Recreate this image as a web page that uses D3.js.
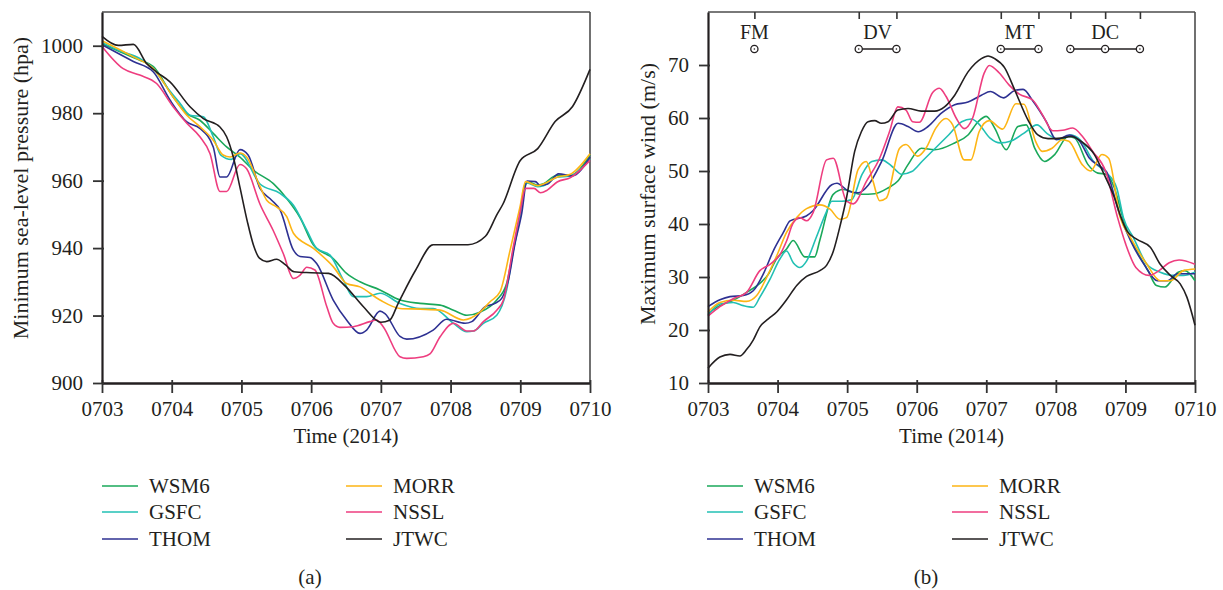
<!DOCTYPE html>
<html>
<head>
<meta charset="utf-8">
<script src="https://cdn.jsdelivr.net/npm/d3@7"></script>
<style>
body { margin: 0; background: #fff; }
svg text { font-family: "Liberation Serif", "DejaVu Serif", serif; fill: #231f20; }
</style>
</head>
<body>
<svg id="chart" width="1223" height="590"></svg>
<script>
// hours since 0703 00h, value
var dayTicks = [0, 24, 48, 72, 96, 120, 144, 168];
var dayLabels = ["0703", "0704", "0705", "0706", "0707", "0708", "0709", "0710"];
var presTicks = [900, 920, 940, 960, 980, 1000];
var windTicks = [10, 20, 30, 40, 50, 60, 70];
var names = ["WSM6", "GSFC", "THOM", "MORR", "NSSL", "JTWC"];
var colors = ["#1aa85a", "#22c0b4", "#2e3192", "#fdb515", "#ee3d7f", "#231f20"];

var presWSM6 = [[0,1000.6],[6.2,998.2],[13,995.7],[17.7,993.8],[24.5,984.8],[29.2,979.9],[33.7,977.9],[38.3,974],[42.9,970],[47.5,967],[52.1,963.1],[59,959.1],[63.6,954.7],[68.2,949],[72.8,940.9],[79.6,936.9],[84.2,932.5],[88.8,930],[95.7,927.6],[102.6,924.6],[109.5,923.6],[116.4,923.1],[121,921.6],[125.6,920.1],[130.1,921],[135.9,924.6],[139.3,929.5],[141.6,939.4],[143.9,949.3],[145.5,958.5],[147,959.6],[149.7,958.7],[152,959.1],[156.6,961.6],[161.1,961.6],[168,967.6]];
var presGSFC = [[0,1001],[6,998.5],[13,996.2],[17.7,993.2],[22.3,987.8],[26.9,982.9],[30.3,979.4],[34.9,978.9],[38.3,973],[41,967.5],[44.5,966.3],[47.5,968],[54.4,959],[61.3,956.2],[65.9,952.7],[70.5,945.3],[73.9,939.9],[78.5,937.9],[83.1,930.5],[86.5,925.6],[91.1,925.6],[95.7,926.6],[102.6,923.6],[109.5,922.1],[114,922.1],[121,917.7],[125.6,915.2],[127.9,915.4],[131.3,917.7],[135.9,920.1],[139.3,927.6],[141.6,939.4],[143.9,949.8],[146.3,959.3],[150,958.2],[152,958.5],[156.6,961],[161,961.3],[168,966.5]];
var presTHOM = [[0,1000.3],[10.8,995.3],[17.7,992.2],[23.4,983.9],[29.2,977.4],[33.7,975.5],[38.3,970],[40.6,961.1],[42.9,961.1],[47.5,969.2],[50.3,967.6],[54.4,957.7],[58.4,954.2],[61.3,951.3],[65.9,939.4],[68.2,937.5],[71.6,937.2],[73.9,935.4],[79.6,924.6],[84.2,918.7],[88.8,914.7],[91.1,915.7],[95.7,921.3],[97.4,920.6],[102.6,913.8],[104.9,913],[114,915.7],[118.6,918.9],[125,917.7],[127.3,918.2],[131.9,922.6],[135.3,923.6],[137.6,925.1],[139.9,930.5],[142.2,941.4],[144.5,950.3],[146.3,959.9],[149.2,959.7],[150.9,958.6],[153.2,958.9],[157.2,962],[161.8,961.4],[168,967]];
var presMORR = [[0,1001.5],[10.8,996.7],[17.7,993.2],[24.5,984.8],[29.2,979.4],[33.7,976],[38.3,972],[41.7,967.6],[44.1,967],[47.5,968.2],[49.8,967],[54.4,958.2],[56.7,954.2],[60.1,952.2],[63.6,949.3],[65.9,944.4],[72.8,939.9],[79.6,934.5],[84.2,929.5],[88.8,928.5],[95.7,924.6],[102.6,922.1],[109.5,921.9],[116.4,921.6],[124.4,918.7],[130.1,921],[133.6,924.1],[137,927],[140.5,939.4],[143.9,952.2],[145.8,959.7],[150,958.5],[152,959],[156.6,961],[161,961.8],[168,968]];
var presNSSL = [[0,999.8],[7.3,993.2],[13,991.3],[18.8,988.8],[24.5,981.9],[29.2,977],[33.7,973],[37.2,968],[40.6,956.8],[42.9,956.8],[47.5,964.8],[49.8,963.5],[54.4,953],[58.9,945.3],[62.4,938.4],[65.9,931],[68.2,932],[70.5,934.3],[73.3,933.5],[77.4,922.6],[79.6,917.7],[81.9,916.5],[86.5,916.7],[92.2,918.2],[94.5,918.7],[96.8,916.7],[102.6,907.8],[104.9,907.3],[110.6,907.8],[112.9,908.6],[116.4,913.7],[121,917.7],[125.6,915.4],[127.9,915.4],[131.3,918.2],[135.9,921.6],[138.2,924.6],[141.6,940.4],[143.9,950.4],[145.8,957.7],[148.7,957.7],[151,956.4],[153.3,957.2],[156.7,959.6],[161.3,960.9],[168,966]];
var presJTWC = [[0,1002.8],[5.6,1000.1],[10.8,1000.4],[15.4,994.7],[18.8,992.2],[23.4,989.3],[30.3,981.9],[34.9,978.4],[40.6,975.9],[42.9,973],[45.2,967],[47.5,958],[50,948],[52.1,941],[54.2,937],[56.7,936],[60.1,936.7],[63.2,935],[66.1,933],[72,932.7],[78,932.5],[84,928.5],[90,922.6],[96,918],[99,918.6],[102,923.7],[108,933.5],[114,941],[120,941],[126,941],[132,943.5],[136,950],[138,953],[144,966],[150,969.5],[156,977.5],[162,982],[168,993]];

var windWSM6 = [[0,23.1],[4.1,24.6],[8.7,25.6],[13.3,27.1],[17.9,28.8],[20.8,30.5],[23.7,33.5],[27.1,35.3],[29.4,36.9],[33.4,33.8],[36.8,33.8],[38.6,37],[43.2,45.6],[46.6,46.5],[52.9,45.6],[57.5,45.7],[62.1,46.8],[65.5,48.1],[69,51.2],[73.6,54.3],[78.2,54],[85.1,55.3],[89.7,56.8],[93.2,59.3],[96,60.3],[98.9,58.1],[102.9,54],[106.9,58.4],[109.8,58.7],[112.7,54.3],[116.1,51.8],[119.6,53.1],[124.2,56.5],[126.5,56.2],[131.1,51.2],[134.5,49.6],[137.4,49.4],[140.2,46.8],[143.1,41.2],[144.9,38.4],[151.8,31.2],[154.7,28.4],[157.6,28.1],[162.2,30.9],[164.5,31.2],[168,29.3]];
var windGSFC = [[0,22.8],[4.1,24.9],[8.7,25.2],[12.2,24.6],[15.6,24.3],[17.9,26.2],[21.4,29.6],[24.8,33.4],[27.1,34.9],[29.4,32.7],[31.7,31.8],[34,33],[37.3,37.4],[40.7,42.1],[42.7,44.3],[46.2,44.3],[49.6,44.6],[53.1,49.3],[56.5,51.8],[59.9,52.1],[63.4,50.9],[66.8,49.4],[70.3,49.9],[73.8,51.8],[78.4,54.3],[83,56.8],[87.5,59.3],[90.9,59.8],[93.2,59],[97.3,56.2],[100.8,55.3],[104.3,55.6],[108.9,57.1],[113.5,58.7],[116.9,57.1],[121.5,55.9],[125,56.8],[128.4,55.9],[133,51.8],[137.6,49.6],[141,46.8],[143.3,41.2],[146.8,37.4],[151.4,32.4],[156,30.9],[160.6,30.3],[164,30.3],[168,30.9]];
var windTHOM = [[0,24.4],[4.1,25.7],[7.6,26.3],[12.2,26.5],[15.6,27.4],[19.1,30.6],[22.5,34.9],[26,38.4],[28.3,40.6],[33.9,41.5],[36.2,42.5],[42.7,47.4],[44.5,47.7],[48.5,46.2],[51.9,45.9],[55.4,47.4],[59.9,51.8],[65.6,59],[69,58.4],[72.5,57.4],[75.9,58.4],[80.5,60.9],[85.1,62.5],[89.7,63],[94.3,64.3],[97.4,65],[101.9,63.8],[105.8,65.2],[108.7,65.4],[112.2,63.1],[116.7,59.3],[120.2,55.9],[124.7,56.8],[128.2,55.6],[131.6,52.4],[135.1,50.9],[137.4,49.9],[142,41.8],[145.8,36.8],[150.4,32.4],[155,29.3],[158.5,29.3],[161.9,30.6],[168,30.6]];
var windMORR = [[0,23.4],[4.1,25.2],[8.7,25.6],[13.3,25.4],[16.8,26.5],[20.2,29.9],[23.7,34],[27.1,38.4],[30.6,41.2],[34,42.9],[38.6,43.6],[42.1,42.8],[45.5,40.9],[47.8,41.2],[51.8,50.3],[54.6,51.8],[56.9,48.1],[59.2,44.4],[61.5,44.9],[66.1,54.3],[68.3,55],[72.3,52.8],[75.2,54.3],[78.6,58.1],[82.1,59.9],[84.4,58.7],[88.4,52.1],[90.7,52.1],[93.6,57.5],[97,59.5],[101.6,57.9],[106.2,62.7],[109,62.6],[113,55.6],[115.3,53.7],[118.7,54.3],[122.2,55.9],[124.5,55.6],[129.1,51.2],[131.9,50],[135.9,53.1],[138.2,52.4],[142.2,41.2],[145.8,37.4],[151.4,32.4],[156,29.3],[159.5,29.3],[164,31.2],[168,31.5]];
var windNSSL = [[0,22.6],[4.1,24.4],[8.7,25.9],[13.3,27.1],[17.9,31.2],[21.4,32.4],[24.8,34.2],[27.1,36.8],[29.4,40.2],[31.7,41.2],[34,40.6],[36.3,42.2],[40.9,52.1],[43.2,52.4],[47.8,44.3],[50.1,43.8],[54.7,48.1],[59.2,52.4],[62.6,57.4],[65.5,62.1],[68.3,61.5],[70.6,59.3],[72.9,59.2],[77.5,64.8],[79.8,65.6],[82.1,64.1],[85.6,60],[88.4,58],[91.3,60],[95.3,68.5],[97,69.9],[100.5,68.5],[103.9,66.2],[107.4,64.5],[112,63.4],[115.4,60.6],[118.9,57.6],[122.3,57.7],[125.8,58.1],[129.2,56.5],[132.7,53.7],[137.2,49.9],[141.3,41.2],[144.1,36.2],[147.6,31.8],[152.2,30.3],[155.6,31.2],[159.1,32.7],[162.5,33.2],[168,32.4]];
var windJTWC = [[0,12.8],[4.1,14.9],[7.6,15.4],[11,15.1],[13.3,16.3],[15.6,18.1],[17.9,20.6],[20.8,22.1],[23.7,23.4],[27.1,25.7],[30.6,28.4],[34,30.1],[38.6,31.2],[40.9,32.2],[43.2,34.8],[45.5,39.5],[47.8,45],[50.6,53.7],[52.9,57.4],[55.2,59.3],[57.5,59.5],[59.8,59],[62.1,59.3],[65.5,61.5],[69,61.8],[73.6,61.3],[78.2,61.3],[81.6,62.1],[85.1,64.3],[89.7,68.7],[94.3,71.2],[96.6,71.7],[98.9,71.2],[102.3,69.5],[105.8,65.3],[110.4,59.6],[113.8,56.8],[117.3,56.1],[121.8,56.2],[125.3,56.5],[128.7,55.6],[133.3,53.1],[136.7,49.3],[140.2,45],[142.5,41.2],[144.5,38.7],[148,37.1],[152.6,35.6],[156,32.4],[159.5,30.3],[162.9,28.7],[165.2,26.2],[168,20.9]];

// intensity stages for panel (b)
var stageNames = ["FM", "DV", "MT", "DC"];
var stageHours = [[16], [52, 65], [101, 114], [125, 137, 149]];

var svg = d3.select("#chart");
var plotTop = 12, plotBottom = 383;

function drawPanel(p) {
    var x = d3.scaleLinear().domain([0, 168]).range([p.left, p.right]);
    var y = d3.scaleLinear().domain(p.yDomain).range([plotBottom, plotTop]);
    var g = svg.append("g");

    // frame top / right
    g.append("line").attr("x1", p.left).attr("x2", p.right).attr("y1", plotTop).attr("y2", plotTop)
        .attr("stroke", "#4d4d4d").attr("stroke-width", 1.6);
    g.append("line").attr("x1", p.right).attr("x2", p.right).attr("y1", plotTop).attr("y2", plotBottom)
        .attr("stroke", "#4d4d4d").attr("stroke-width", 1.6);

    var line = d3.line().x(d => x(d[0])).y(d => y(d[1])).curve(d3.curveMonotoneX);
    p.series.forEach(function(s, i) {
        g.append("path").datum(s)
            .attr("fill", "none")
            .attr("stroke", colors[i])
            .attr("stroke-width", 1.6)
            .attr("d", line);
    });

    var ax = g.append("g").attr("transform", "translate(0," + plotBottom + ")")
        .call(d3.axisBottom(x).tickValues(dayTicks).tickFormat((d, i) => dayLabels[i])
            .tickSize(10).tickSizeOuter(0).tickPadding(8));
    ax.selectAll(".tick line").attr("y1", -3).attr("stroke", "#333").attr("stroke-width", 1.8);
    ax.select(".domain").attr("stroke", "#231f20").attr("stroke-width", 2.6);

    var ay = g.append("g").attr("transform", "translate(" + p.left + ",0)")
        .call(d3.axisLeft(y).tickValues(p.yTicks).tickFormat(d3.format("d"))
            .tickSize(9).tickSizeOuter(0).tickPadding(10));
    ay.selectAll(".tick line").attr("x1", 2).attr("stroke", "#333").attr("stroke-width", 1.8);
    ay.select(".domain").attr("stroke", "#231f20").attr("stroke-width", 2.2);

    g.selectAll(".tick text").attr("font-size", 21);

    g.append("text").attr("x", (p.left + p.right) / 2).attr("y", 443)
        .attr("text-anchor", "middle").attr("font-size", 21).text("Time (2014)");
    g.append("text").attr("transform", "translate(" + p.titleX + "," + p.titleY + ") rotate(-90)")
        .attr("text-anchor", "middle").attr("font-size", 22).text(p.yTitle);

    // legend
    var rows = [486, 512, 539];
    names.forEach(function(n, i) {
        var col = Math.floor(i / 3), r = i % 3;
        var lx = p.legendX[col];
        g.append("line").attr("x1", lx).attr("x2", lx + 36).attr("y1", rows[r]).attr("y2", rows[r])
            .attr("stroke", colors[i]).attr("stroke-width", 1.6);
        g.append("text").attr("x", lx + 47).attr("y", rows[r] + 7).attr("font-size", 21).text(n);
    });

    g.append("text").attr("x", p.captionX).attr("y", 584)
        .attr("text-anchor", "middle").attr("font-size", 21).text(p.caption);

    return {x: x, y: y, g: g};
}

drawPanel({
    left: 102, right: 590, yDomain: [900, 1010], yTicks: presTicks,
    series: [presWSM6, presGSFC, presTHOM, presMORR, presNSSL, presJTWC],
    yTitle: "Minimum sea-level pressure (hpa)", titleX: 28, titleY: 188,
    legendX: [102, 346], caption: "(a)", captionX: 310
});

var b = drawPanel({
    left: 708, right: 1195, yDomain: [10, 80], yTicks: windTicks,
    series: [windWSM6, windGSFC, windTHOM, windMORR, windNSSL, windJTWC],
    yTitle: "Maximum surface wind (m/s)", titleX: 655, titleY: 194,
    legendX: [707, 952], caption: "(b)", captionX: 926
});

// stage ticks along the top of panel (b)
var allStage = [].concat.apply([], stageHours);
var at = b.g.append("g").attr("transform", "translate(0," + plotTop + ")")
    .call(d3.axisTop(b.x).tickValues(allStage).tickSize(-7).tickFormat(""));
at.select(".domain").remove();
at.selectAll(".tick line").attr("stroke", "#333").attr("stroke-width", 1.6);

stageHours.forEach(function(hs, i) {
    var sg = b.g.append("g");
    if (hs.length > 1) {
        sg.append("line").attr("x1", b.x(hs[0])).attr("x2", b.x(hs[hs.length - 1]))
            .attr("y1", 49).attr("y2", 49).attr("stroke", "#231f20").attr("stroke-width", 1.3);
    }
    sg.selectAll("circle.o").data(hs).enter().append("circle")
        .attr("cx", d => b.x(d)).attr("cy", 49).attr("r", 3.6)
        .attr("fill", "#fff").attr("stroke", "#231f20").attr("stroke-width", 1.3);
    sg.selectAll("circle.c").data(hs).enter().append("circle")
        .attr("cx", d => b.x(d)).attr("cy", 49).attr("r", 0.8).attr("fill", "#231f20");
    var mid = (hs[0] + hs[hs.length - 1]) / 2;
    sg.append("text").attr("x", b.x(mid)).attr("y", 39)
        .attr("text-anchor", "middle").attr("font-size", 20).text(stageNames[i]);
});
</script>
</body>
</html>
